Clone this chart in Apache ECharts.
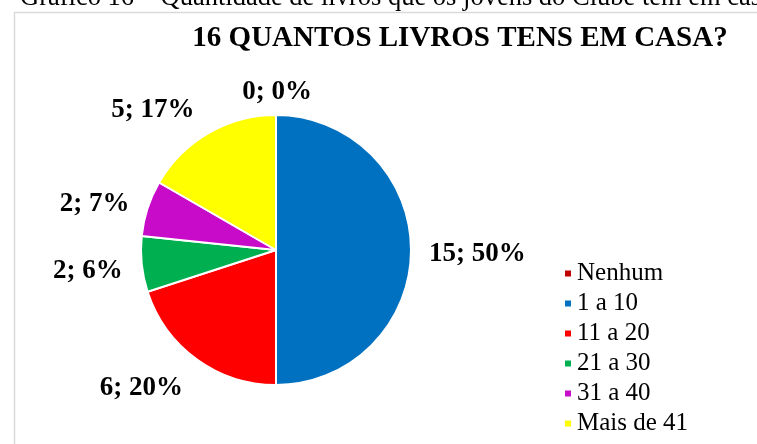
<!DOCTYPE html>
<html>
<head>
<meta charset="utf-8">
<script src="https://cdn.jsdelivr.net/npm/echarts@6/dist/echarts.min.js"></script>
<style>
  html, body { margin: 0; padding: 0; background: #fff; }
  #chart { width: 757px; height: 444px; }
</style>
</head>
<body>
<div id="chart"></div>
<script>
// dados do gráfico 16
var categorias = ['Nenhum', '1 a 10', '11 a 20', '21 a 30', '31 a 40', 'Mais de 41'];
var valores = [0, 15, 6, 2, 2, 5];
var rotulos = ['0; 0%', '15; 50%', '6; 20%', '2; 6%', '2; 7%', '5; 17%'];

var cores = ['#C00000', '#0070C0', '#FF0000', '#00B050', '#C80BC8', '#FFFF00'];
// pequenos ajustes dos rótulos (posição tipo "melhor ajuste" do Excel)
var ajustes = [[41, -3], [-7, 4], [3, 13], [6, 5], [6, 2], [1, -6]];
var serif = '"Liberation Serif", "Times New Roman", serif';

var dados = categorias.map(function (c, i) {
    return { name: c, value: valores[i], itemStyle: { color: cores[i] } };
});

var option = {
    backgroundColor: '#fff',
    animation: false,
    title: [{
        text: 'Gráfico 16 – Quantidade de livros que os jovens do Clube têm em casa',
        left: 15, top: -20,
        textStyle: { fontFamily: serif, fontWeight: 'normal', fontSize: 26.5, color: '#000', lineHeight: 26 }
    }, {
        text: '16 QUANTOS LIVROS TENS EM CASA?',
        left: 455, top: 19, textAlign: 'center',
        textStyle: { fontFamily: serif, fontWeight: 'bold', fontSize: 29, color: '#000' }
    }],
    graphic: [{
        type: 'rect', silent: true, z: -1,
        shape: { x: 14.5, y: 12.5, width: 900, height: 600 },
        style: { fill: 'none', stroke: '#d9d9d9', lineWidth: 1.5 }
    }],
    legend: {
        orient: 'vertical',
        left: 558, top: 256,
        itemWidth: 8, itemHeight: 8, itemGap: 5,
        icon: 'rect',
        data: categorias,
        textStyle: { fontFamily: serif, fontSize: 25, color: '#000', lineHeight: 25 }
    },
    series: [{
        type: 'pie',
        center: [276, 250],
        radius: [0, 135],
        startAngle: 90,
        clockwise: true,
        avoidLabelOverlap: false,
        itemStyle: { borderColor: '#fff', borderWidth: 2 },
        label: {
            show: true,
            position: 'outside',
            formatter: function (p) { return rotulos[p.dataIndex]; },
            fontFamily: serif, fontWeight: 'bold', fontSize: 27, color: '#000'
        },
        labelLine: { show: false, length: 20, length2: 0 },
        labelLayout: function (p) {
            var a = ajustes[p.dataIndex];
            return { dx: a[0], dy: a[1] };
        },
        data: dados
    }]
};

var meuGrafico = echarts.init(document.getElementById('chart'));
meuGrafico.setOption(option);
</script>
</body>
</html>
